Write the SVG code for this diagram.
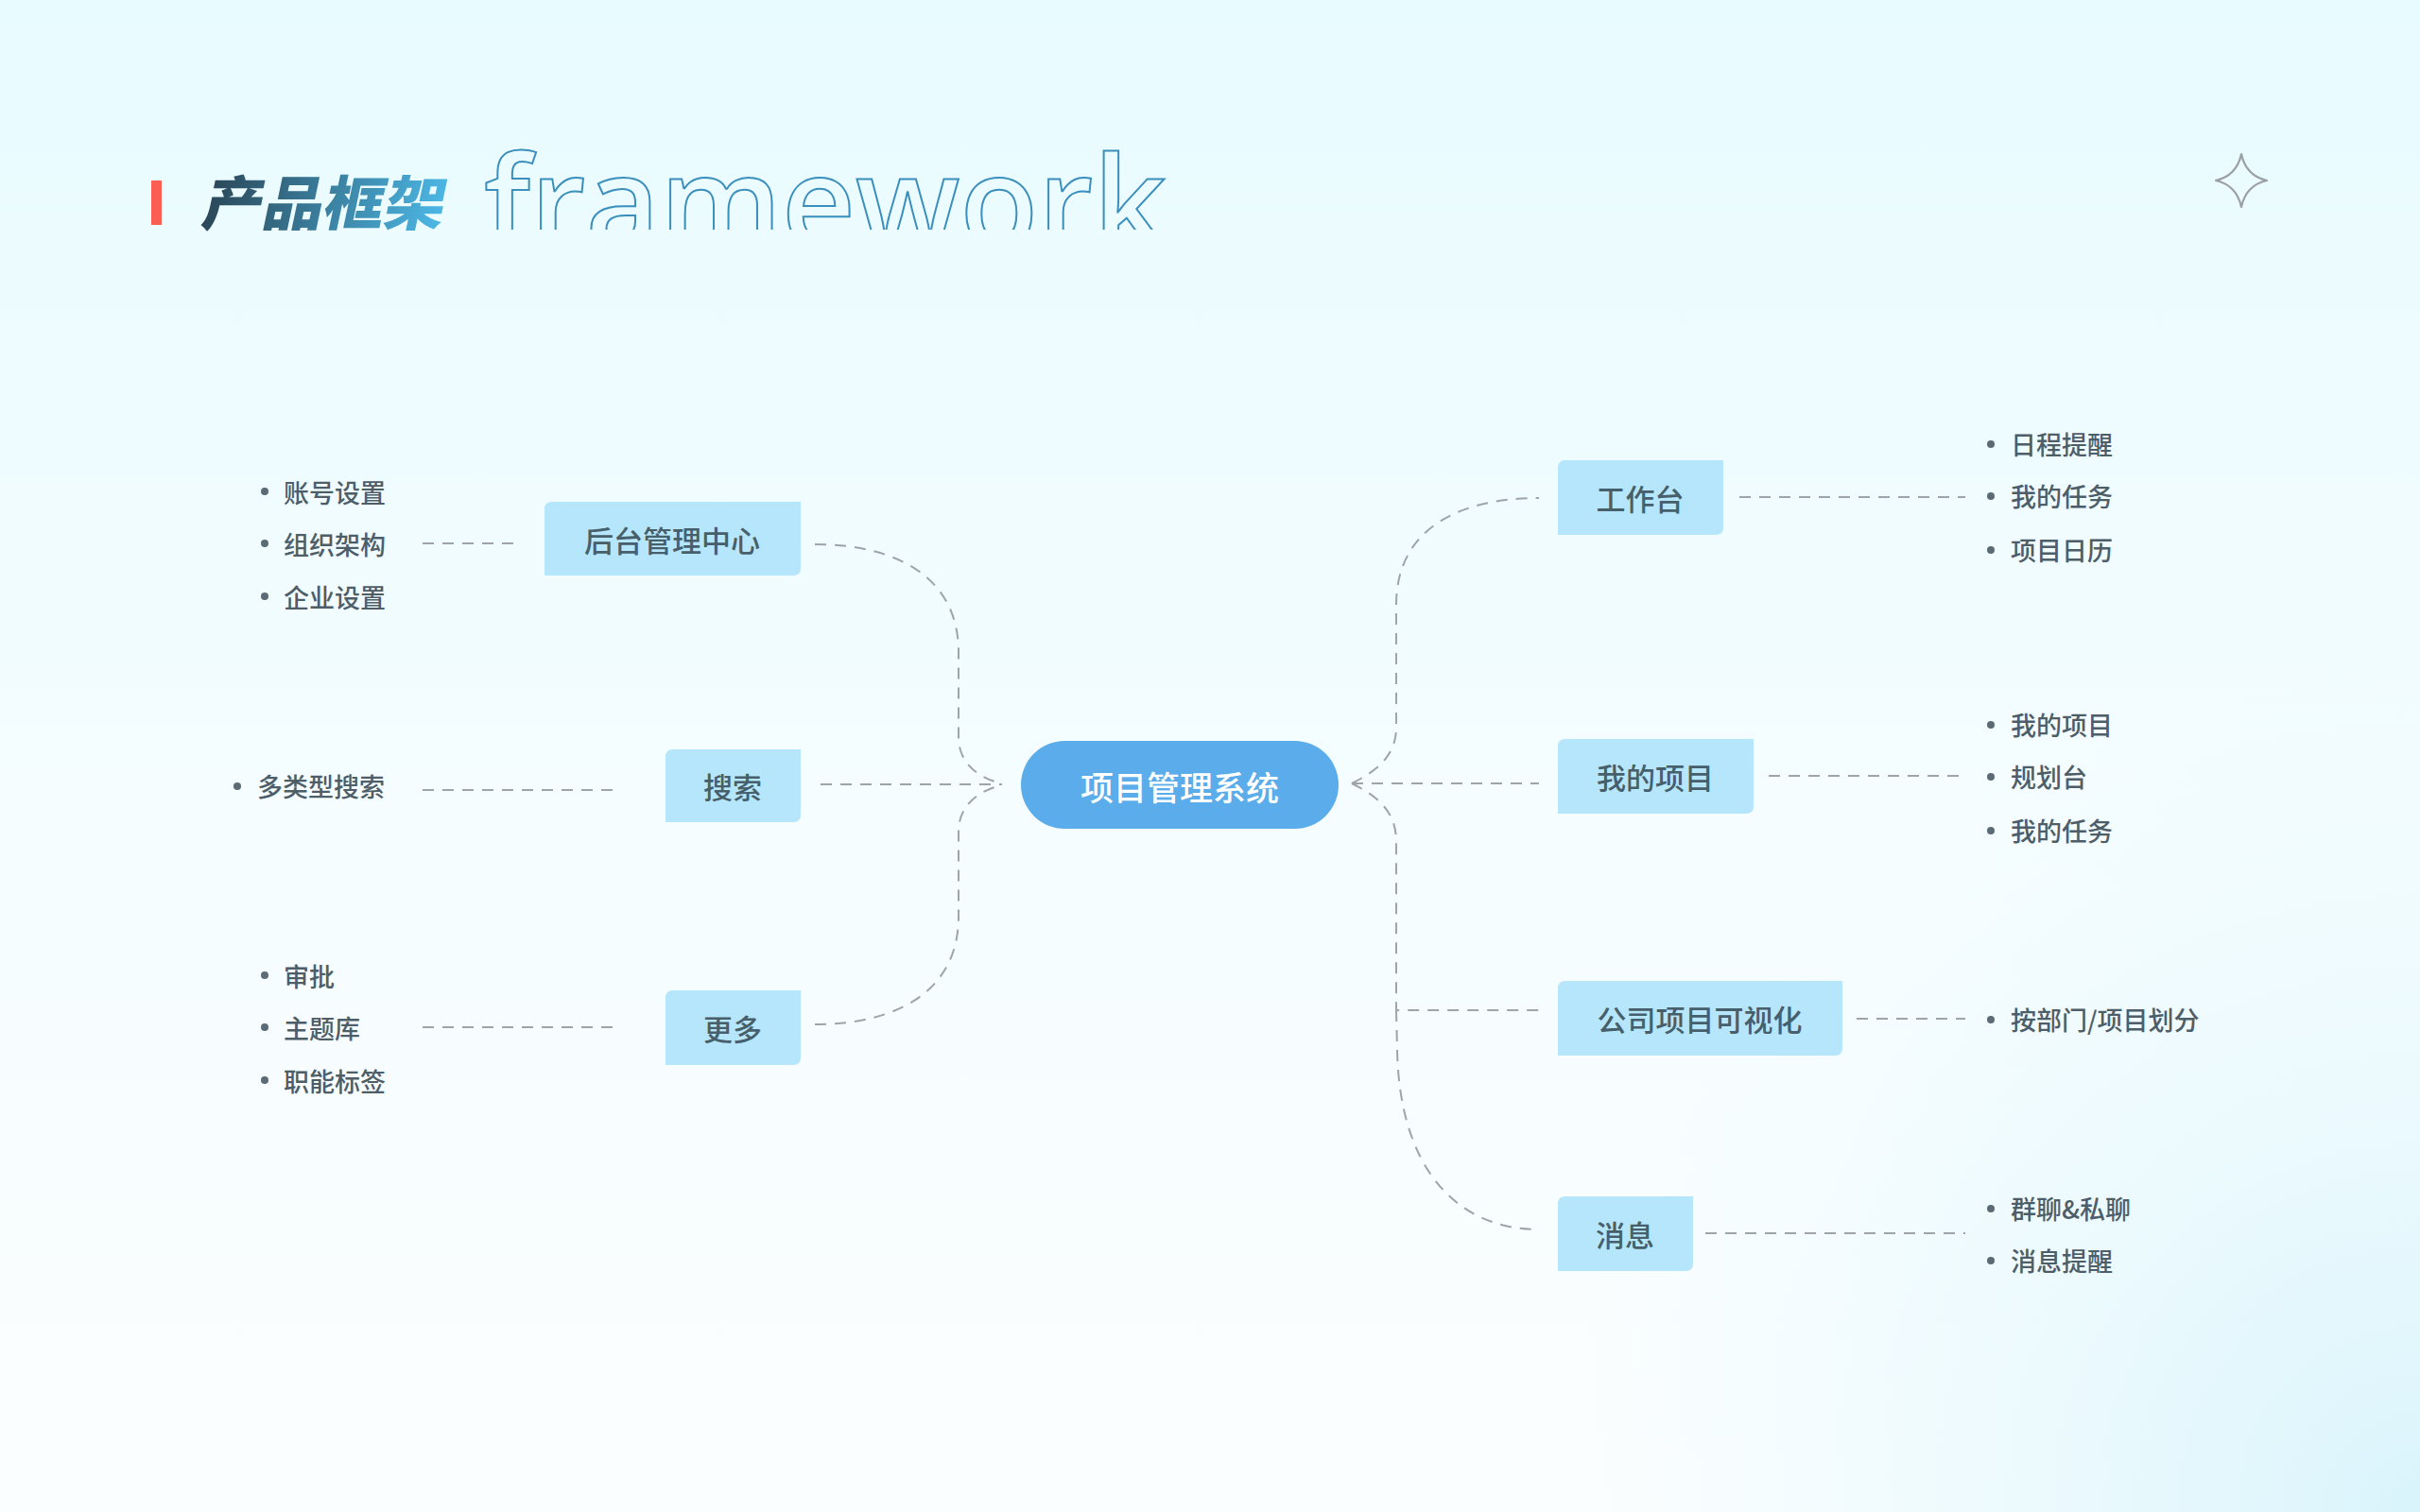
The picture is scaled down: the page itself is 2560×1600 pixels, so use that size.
<svg xmlns="http://www.w3.org/2000/svg" width="2560" height="1600" viewBox="0 0 2560 1600">
  <defs>
    <linearGradient id="bg" x1="0" y1="0" x2="0" y2="1">
      <stop offset="0" stop-color="#e8fbff"/>
      <stop offset="0.6" stop-color="#f6fdff"/>
      <stop offset="1" stop-color="#fbfeff"/>
    </linearGradient>
    <radialGradient id="bg2" cx="2560" cy="1600" r="900" gradientUnits="userSpaceOnUse">
      <stop offset="0" stop-color="#d9f4fb" stop-opacity="1"/>
      <stop offset="1" stop-color="#e6f8fd" stop-opacity="0"/>
    </radialGradient>
    <linearGradient id="titleGrad" x1="0" y1="0" x2="1" y2="0">
      <stop offset="0" stop-color="#2a4657"/>
      <stop offset="1" stop-color="#4cb8e6"/>
    </linearGradient>
    <clipPath id="fwClip">
      <rect x="480" y="120" width="800" height="123"/>
    </clipPath>
    <style>
      .node { fill: #b5e6fb; }
      .ntext { font-family: "Noto Sans CJK SC", "Noto Sans", sans-serif; font-size: 31px; font-weight: 500; fill: #465f6b; text-anchor: middle; dominant-baseline: central; }
      .leaf { font-family: "Noto Sans CJK SC", "Noto Sans", sans-serif; font-size: 27px; font-weight: 500; fill: #4e5e69; dominant-baseline: central; }
      .dot { fill: #5b6b75; }
      .con { fill: none; stroke: #9ea4a8; stroke-width: 2; stroke-dasharray: 12 9; }
    </style>
  </defs>

  <rect x="0" y="0" width="2560" height="1600" fill="url(#bg)"/>
  <rect x="0" y="0" width="2560" height="1600" fill="url(#bg2)"/>

  <!-- Title -->
  <g id="title">
    <rect x="160" y="191" width="11" height="47" fill="#fc5f51"/>
    <text x="212" y="238" transform="skewX(-12) translate(50 0)" font-family="Noto Sans CJK SC, sans-serif" font-weight="900" font-size="62" fill="url(#titleGrad)" textLength="256" lengthAdjust="spacingAndGlyphs">产品框架</text>
    <g clip-path="url(#fwClip)">
      <text x="512" y="263" font-family="Open Sans, Noto Sans, sans-serif" font-weight="600" font-size="136" fill="none" stroke="#3a8fbd" stroke-width="2" textLength="722" lengthAdjust="spacingAndGlyphs">framework</text>
    </g>
  </g>

  <!-- Star -->
  <g id="star">
    <path d="M2371 163 Q2376 186 2398 191 Q2376 196 2371 219 Q2366 196 2344 191 Q2366 186 2371 163 Z" fill="none" stroke="#9aa0a4" stroke-width="2.2" stroke-linejoin="round"/>
  </g>

  <!-- Connectors -->
  <g id="connectors">
    <!-- left side -->
    <path class="con" d="M862 576 C950 576 1014 612 1014 690 L1014 780 C1014 808 1036 824 1060 829"/>
    <path class="con" d="M868 830 L1060 830"/>
    <path class="con" d="M862 1084 C950 1084 1014 1048 1014 970 L1014 880 C1014 852 1036 836 1060 831"/>
    <!-- right side -->
    <path class="con" d="M1430 829 C1456 816 1477 800 1477 770 L1477 640 C1477 562 1540 527 1628 527"/>
    <path class="con" d="M1430 829 L1628 829"/>
    <path class="con" d="M1430 829 C1456 842 1477 858 1477 890 L1477 1069 L1628 1069"/>
    <path class="con" d="M1477 1069 L1478 1110 C1480 1235 1540 1301 1628 1301"/>
    <!-- left leaf connectors -->
    <path class="con" d="M447 575 L552 575" stroke-dasharray="11 10"/>
    <path class="con" d="M447 836 L656 836" stroke-dasharray="11 10"/>
    <path class="con" d="M447 1087 L656 1087" stroke-dasharray="11 10"/>
    <!-- right leaf connectors -->
    <path class="con" d="M1840 526 L2079 526" stroke-dasharray="11 10"/>
    <path class="con" d="M1871 821 L2079 821" stroke-dasharray="11 10"/>
    <path class="con" d="M1964 1078 L2079 1078" stroke-dasharray="11 10"/>
    <path class="con" d="M1804 1305 L2079 1305" stroke-dasharray="11 10"/>
  </g>

  <!-- Center node -->
  <g id="node-center">
    <rect x="1080" y="784" width="336" height="93" rx="46.5" fill="#5aacea"/>
    <text x="1248" y="831" font-family="Noto Sans CJK SC, Noto Sans, sans-serif" font-size="35" font-weight="500" fill="#ffffff" text-anchor="middle" dominant-baseline="central">项目管理系统</text>
  </g>

  <!-- Left nodes -->
  <g id="node-houtai">
    <path class="node" d="M584 531 H847 V601 Q847 609 839 609 H576 V539 Q576 531 584 531 Z"/>
    <text class="ntext" x="711" y="570">后台管理中心</text>
  </g>
  <g id="node-sousuo">
    <path class="node" d="M712 793 H847 V862 Q847 870 839 870 H704 V801 Q704 793 712 793 Z"/>
    <text class="ntext" x="775" y="831">搜索</text>
  </g>
  <g id="node-gengduo">
    <path class="node" d="M712 1048 H847 V1119 Q847 1127 839 1127 H704 V1056 Q704 1048 712 1048 Z"/>
    <text class="ntext" x="775" y="1087">更多</text>
  </g>

  <!-- Right nodes -->
  <g id="node-gongzuotai">
    <path class="node" d="M1656 487 H1823 V558 Q1823 566 1815 566 H1648 V495 Q1648 487 1656 487 Z"/>
    <text class="ntext" x="1735" y="526">工作台</text>
  </g>
  <g id="node-wodexiangmu">
    <path class="node" d="M1656 782 H1855 V853 Q1855 861 1847 861 H1648 V790 Q1648 782 1656 782 Z"/>
    <text class="ntext" x="1751" y="821">我的项目</text>
  </g>
  <g id="node-gongsi">
    <path class="node" d="M1656 1038 H1949 V1109 Q1949 1117 1941 1117 H1648 V1046 Q1648 1038 1656 1038 Z"/>
    <text class="ntext" x="1798" y="1077">公司项目可视化</text>
  </g>
  <g id="node-xiaoxi">
    <path class="node" d="M1656 1266 H1791 V1337 Q1791 1345 1783 1345 H1648 V1274 Q1648 1266 1656 1266 Z"/>
    <text class="ntext" x="1719" y="1305">消息</text>
  </g>

  <!-- Left leaves -->
  <g id="leaves-houtai">
    <circle class="dot" cx="280" cy="520" r="4"/><text class="leaf" x="300" y="520">账号设置</text>
    <circle class="dot" cx="280" cy="575" r="4"/><text class="leaf" x="300" y="575">组织架构</text>
    <circle class="dot" cx="280" cy="631" r="4"/><text class="leaf" x="300" y="631">企业设置</text>
  </g>
  <g id="leaves-sousuo">
    <circle class="dot" cx="251" cy="832" r="4"/><text class="leaf" x="272" y="831">多类型搜索</text>
  </g>
  <g id="leaves-gengduo">
    <circle class="dot" cx="280" cy="1032" r="4"/><text class="leaf" x="300" y="1032">审批</text>
    <circle class="dot" cx="280" cy="1087" r="4"/><text class="leaf" x="300" y="1087">主题库</text>
    <circle class="dot" cx="280" cy="1143" r="4"/><text class="leaf" x="300" y="1143">职能标签</text>
  </g>

  <!-- Right leaves -->
  <g id="leaves-gongzuotai">
    <circle class="dot" cx="2106" cy="470" r="4"/><text class="leaf" x="2127" y="469">日程提醒</text>
    <circle class="dot" cx="2106" cy="525" r="4"/><text class="leaf" x="2127" y="524">我的任务</text>
    <circle class="dot" cx="2106" cy="582" r="4"/><text class="leaf" x="2127" y="581">项目日历</text>
  </g>
  <g id="leaves-wodexiangmu">
    <circle class="dot" cx="2106" cy="767" r="4"/><text class="leaf" x="2127" y="766">我的项目</text>
    <circle class="dot" cx="2106" cy="822" r="4"/><text class="leaf" x="2127" y="821">规划台</text>
    <circle class="dot" cx="2106" cy="879" r="4"/><text class="leaf" x="2127" y="878">我的任务</text>
  </g>
  <g id="leaves-gongsi">
    <circle class="dot" cx="2106" cy="1079" r="4"/><text class="leaf" x="2127" y="1078">按部门/项目划分</text>
  </g>
  <g id="leaves-xiaoxi">
    <circle class="dot" cx="2106" cy="1279" r="4"/><text class="leaf" x="2127" y="1278">群聊&amp;私聊</text>
    <circle class="dot" cx="2106" cy="1334" r="4"/><text class="leaf" x="2127" y="1333">消息提醒</text>
  </g>
</svg>
